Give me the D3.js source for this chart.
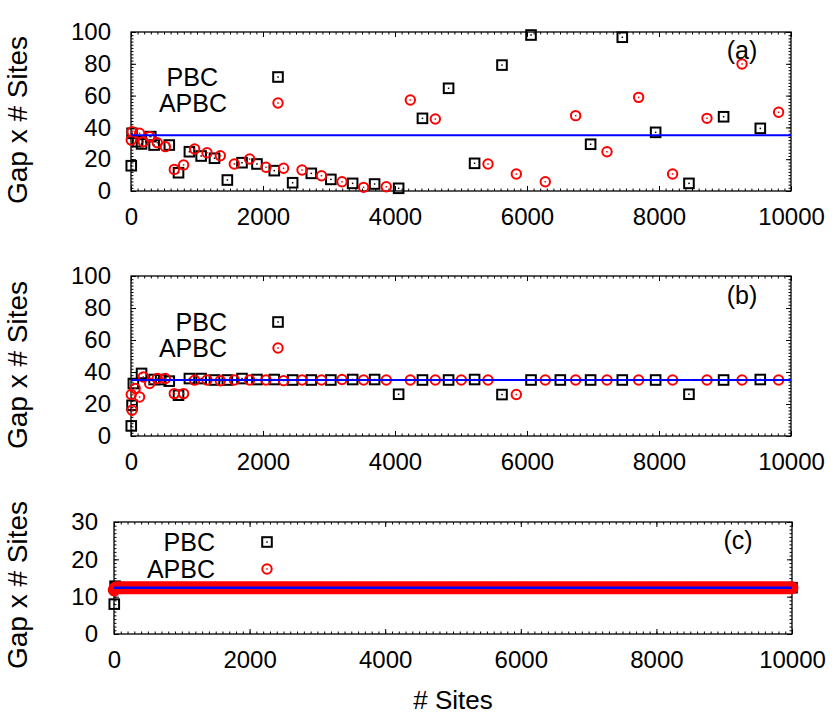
<!DOCTYPE html>
<html lang="en">
  <head>
    <meta charset="utf-8">
    <title>Gap x # Sites</title>
    <script src="https://cdn.jsdelivr.net/npm/d3@7"></script>
    <style>
      body { margin: 0; background: #fff; }
      svg text { font-family: "Liberation Sans", Arial, Helvetica, sans-serif; fill: #000; }
      .frame { fill: none; stroke: #000; stroke-width: 1.3px; }
      .axis .tick line { stroke: #000; stroke-width: 1px; }
      .axis .tick text { font-size: 24px; }
      .ylabel { font-size: 28px; }
      .xlabel { font-size: 26px; }
      .legend { font-size: 25px; }
      .tag { font-size: 25px; }
    </style>
  </head>
  <body>
    <svg id="chart" width="840" height="720"></svg>
    <script>

    // tick labels
    const xTicks = [0, 2000, 4000, 6000, 8000, 10000];
    const yTicksAB = [0, 20, 40, 60, 80, 100];
    const yTicksC = [0, 10, 20, 30];
    const seriesNames = ["PBC", "APBC"];
    const panelTags = ["(a)", "(b)", "(c)"];

    // blue reference level per panel
    const refLevel = [35, 35, 12.4];

    // panels (a) and (b): PBC squares (null = not shown / off chart)
    const sitesPBC = [4, 16, 36, 100, 160, 300, 350, 450, 580, 720, 885, 1063, 1265, 1460, 1682, 1909,
                      2171, 2449, 2732, 3028, 3358, 3691, 4055, 4416, 4812, 5206, 5621, 6061, 6505,
                      6964, 7444, 7949, 8454, 8979, 9535];
    const pbcA = [15.9, 36.3, null, 31, 29.6, 34.2, 28.9, null, 28.9, 11.5, 24.7, 22, 20.6, 6.9, 17.8, 17,
                  12.8, 5.2, 11.1, 7.3, 4.8, 4.4, 1.7, 45.7, 64.6, 17.4, 79.2, 98.1, null,
                  29.4, 96.7, 36.9, 4.8, 46.7, 39.4];
    const pbcB = [6.3, 19.2, 32.8, null, 39.1, null, 35.3, 35.3, 34.3, 25.5, 35.9, 35.9, 35, 35, 35.9, 35.3,
                  35.3, 35, 35, 35, 35.3, 35.3, 26.1, 35, 35, 35.3, 25.9, 35, 35,
                  35, 35, 35, 26.1, 35, 35.3];

    // panels (a) and (b): APBC circles
    const sitesAPBC = [4, 16, 64, 130, 186, 282, 398, 520, 656, 797, 964, 1152, 1353, 1565, 1797, 2045,
                       2312, 2591, 2886, 3197, 3524, 3868, 4232, 4611, 5005, 5409, 5838, 6277, 6737,
                       7212, 7691, 8206, 8727, 9258, 9812];
    const apbcA = [32, 37.3, null, 36.3, 31, 34.2, 30.4, 27.9, 13.6, 16.4, 26.4, 24.1, 22.2, 17, 20.1, 14.9,
                   14.3, 13.2, 9.6, 5.8, 2.3, 2.7, 57.2, 45.3, null, 17, 10.7, 5.8, 47.4,
                   24.7, 58.9, 10.7, 45.7, 79.9, 49.5];
    const apbcB = [25.9, 16.1, 29.7, 24.4, 36.9, 32.8, 35.9, 35.9, 26.5, 26.5, 34.9, 35, 34.5, 35, 35, 35,
                   34.6, 35, 35, 35.3, 35, 35, 35, 35, 35, 35, 25.9, 35, 35,
                   35, 35, 35, 35, 35, 35];

    // panel (c): dense sampling, everything sits on the band
    const sitesC = [4, 16, 36, 64, 100, 200, 400, 700, 1000, 1500, 2000, 2500, 3000, 3500, 4000, 4500,
                    5000, 5500, 6000, 6500, 7000, 7500, 8000, 8500, 9000, 9500, 10000];
    const pbcC = [8.0, 12.8, 12.4, 12.4, 12.4, 12.4, 12.4, 12.4, 12.4, 12.4, 12.4, 12.4, 12.4, 12.4, 12.4, 12.4,
                  12.4, 12.4, 12.4, 12.4, 12.4, 12.4, 12.4, 12.4, 12.4, 12.4, 12.4];
    const apbcC = [11.8, 12.2, 12.4, 12.4, 12.4, 12.4, 12.4, 12.4, 12.4, 12.4, 12.4, 12.4, 12.4, 12.4, 12.4, 12.4,
                   12.4, 12.4, 12.4, 12.4, 12.4, 12.4, 12.4, 12.4, 12.4, 12.4, 12.4];

    const svg = d3.select("#chart");

    const panels = [
      {left: 131, right: 791, top: 32, bottom: 191, yMax: 100, yTicks: yTicksAB, yMinor: 2, pad: 20,
       pbcX: sitesPBC, pbc: pbcA, apbcX: sitesAPBC, apbc: apbcA, ref: refLevel[0], tag: panelTags[0],
       tagX: 742, tagY: 50, legSym: 278, legTxt: [218, 227], legY: [77, 103], labY: 120, band: false},
      {left: 131, right: 791, top: 276, bottom: 436, yMax: 100, yTicks: yTicksAB, yMinor: 2, pad: 20,
       pbcX: sitesPBC, pbc: pbcB, apbcX: sitesAPBC, apbc: apbcB, ref: refLevel[1], tag: panelTags[1],
       tagX: 742, tagY: 295, legSym: 278, legTxt: [227, 227], legY: [322, 348], labY: 365, band: false},
      {left: 114, right: 792, top: 522, bottom: 634, yMax: 30, yTicks: yTicksC, yMinor: 1, pad: 16,
       pbcX: sitesC, pbc: pbcC, apbcX: sitesC, apbc: apbcC, ref: refLevel[2], tag: panelTags[2],
       tagX: 738, tagY: 540, legSym: 267, legTxt: [215, 215], legY: [542, 569], labY: 585, band: true}
    ];

    function square(sel, cx, cy) {
      sel.append("rect")
        .attr("x", cx - 4.8).attr("y", cy - 4.8)
        .attr("width", 9.6).attr("height", 9.6)
        .attr("fill", "none").attr("stroke", "#000").attr("stroke-width", 2);
      sel.append("rect")
        .attr("x", cx - 0.75).attr("y", cy - 0.75)
        .attr("width", 1.5).attr("height", 1.5).attr("fill", "#000");
    }

    function ring(sel, cx, cy) {
      sel.append("circle")
        .attr("cx", cx).attr("cy", cy).attr("r", 4.7)
        .attr("fill", "none").attr("stroke", "#ff0000").attr("stroke-width", 2);
      sel.append("rect")
        .attr("x", cx - 0.75).attr("y", cy - 0.75)
        .attr("width", 1.5).attr("height", 1.5).attr("fill", "#ff0000");
    }

    panels.forEach(p => {
      const x = d3.scaleLinear().domain([0, 10000]).range([p.left, p.right]);
      const y = d3.scaleLinear().domain([0, p.yMax]).range([p.bottom, p.top]);
      const g = svg.append("g");

      const xMinor = d3.range(0, 10001, 100);
      const yMinor = d3.range(0, p.yMax + 0.001, p.yMinor);
      const noDomain = a => a.select(".domain").remove();

      // minor ticks on all four sides
      g.append("g").attr("class", "axis").attr("transform", "translate(0," + p.bottom + ")")
        .call(d3.axisBottom(x).tickValues(xMinor).tickSize(-2.5).tickFormat("")).call(noDomain);
      g.append("g").attr("class", "axis").attr("transform", "translate(0," + p.top + ")")
        .call(d3.axisTop(x).tickValues(xMinor).tickSize(-2.5).tickFormat("")).call(noDomain);
      g.append("g").attr("class", "axis").attr("transform", "translate(" + p.left + ",0)")
        .call(d3.axisLeft(y).tickValues(yMinor).tickSize(-2.5).tickFormat("")).call(noDomain);
      g.append("g").attr("class", "axis").attr("transform", "translate(" + p.right + ",0)")
        .call(d3.axisRight(y).tickValues(yMinor).tickSize(-2.5).tickFormat("")).call(noDomain);

      // major ticks
      g.append("g").attr("class", "axis").attr("transform", "translate(0," + p.bottom + ")")
        .call(d3.axisBottom(x).tickValues(xTicks).tickSize(-5).tickPadding(17).tickFormat(d3.format("d")))
        .call(noDomain);
      g.append("g").attr("class", "axis").attr("transform", "translate(0," + p.top + ")")
        .call(d3.axisTop(x).tickValues(xTicks).tickSize(-5).tickFormat("")).call(noDomain);
      g.append("g").attr("class", "axis").attr("transform", "translate(" + p.left + ",0)")
        .call(d3.axisLeft(y).tickValues(p.yTicks).tickSize(-5).tickPadding(p.pad).tickFormat(d3.format("d")))
        .call(noDomain);
      g.append("g").attr("class", "axis").attr("transform", "translate(" + p.right + ",0)")
        .call(d3.axisRight(y).tickValues(p.yTicks).tickSize(-5).tickFormat("")).call(noDomain);

      g.append("rect").attr("class", "frame")
        .attr("x", p.left).attr("y", p.top)
        .attr("width", p.right - p.left).attr("height", p.bottom - p.top);

      // y label
      g.append("text").attr("class", "ylabel")
        .attr("text-anchor", "middle")
        .attr("transform", "translate(27," + p.labY + ") rotate(-90)")
        .text("Gap x # Sites");

      // PBC squares
      const pbcPts = p.pbcX.map((s, i) => ({s: s, v: p.pbc[i]})).filter(d => d.v != null);
      pbcPts.forEach(d => square(g.append("g"), x(d.s), y(d.v)));

      // APBC circles
      const apbcPts = p.apbcX.map((s, i) => ({s: s, v: p.apbc[i]})).filter(d => d.v != null);
      apbcPts.forEach(d => ring(g.append("g"), x(d.s), y(d.v)));

      // panel (c): markers are so dense they merge into a solid band
      if (p.band) {
        g.append("path").datum(apbcPts)
          .attr("d", d3.line().x(d => x(d.s)).y(d => y(d.v)))
          .attr("fill", "none").attr("stroke", "#ff0000")
          .attr("stroke-width", 13).attr("stroke-linecap", "round").attr("stroke-linejoin", "round");
      }

      // reference line
      g.append("line")
        .attr("x1", x(0)).attr("x2", x(10000))
        .attr("y1", y(p.ref)).attr("y2", y(p.ref))
        .attr("stroke", "#0000ff").attr("stroke-width", p.band ? 2.6 : 2);

      // legend
      seriesNames.forEach((name, i) => {
        g.append("text").attr("class", "legend")
          .attr("x", p.legTxt[i]).attr("y", p.legY[i]).attr("dy", "0.35em")
          .attr("text-anchor", "end").text(name);
        if (i === 0) square(g.append("g"), p.legSym, p.legY[i]);
        else ring(g.append("g"), p.legSym, p.legY[i]);
      });

      // panel tag
      g.append("text").attr("class", "tag")
        .attr("x", p.tagX).attr("y", p.tagY).attr("dy", "0.35em")
        .attr("text-anchor", "middle").text(p.tag);
    });

    // shared x label under the last panel
    svg.append("text").attr("class", "xlabel")
      .attr("x", 453).attr("y", 700).attr("dy", "0.35em")
      .attr("text-anchor", "middle").text("# Sites");

    </script>
  </body>
</html>
